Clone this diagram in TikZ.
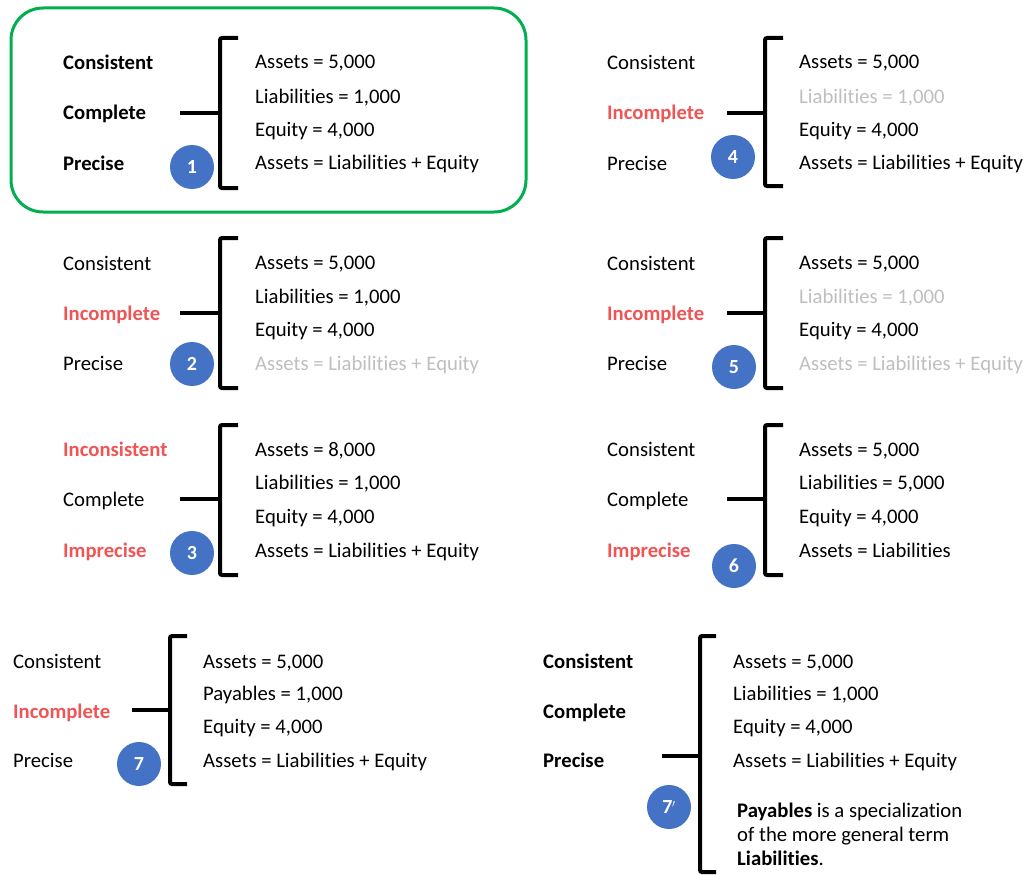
\documentclass[tikz,border=0pt]{standalone}
\usepackage{fontspec}
\setmainfont{Carlito}[Ligatures=NoCommon]
\definecolor{redw}{RGB}{240,85,85}
\definecolor{grayw}{RGB}{191,191,191}
\definecolor{bluec}{RGB}{68,114,196}
\definecolor{greenb}{RGB}{0,176,80}
\tikzset{
 lab/.style={anchor=base west, font=\fontsize{20.7}{24}\selectfont, inner sep=0pt},
 labb/.style={lab, font=\fontsize{20.7}{24}\selectfont\bfseries},
 bad/.style={labb, text=redw},
 gone/.style={lab, text=grayw},
 num/.style={circle, fill=bluec, minimum size=44pt, inner sep=0pt, text=white, font=\fontsize{20}{22}\selectfont\bfseries},
 brc/.style={line width=4pt, rounded corners=2pt},
 frame/.style={draw=greenb, line width=3pt, rounded corners=32pt}
}
\newcommand\mybrace[6]{%
  \draw[brc] (#2,#3) -- (#1,#3) -- (#1,#4) -- (#2,#4);
  \draw[brc] (#6,#5) -- (#1,#5);}
\begin{document}
\begin{tikzpicture}[x=1pt,y=-1pt]
\useasboundingbox (0,0) rectangle (1026,875);
\fill[white] (0,0) rectangle (1026,875);
% frame
\draw[frame] (11,8) rectangle (526,212);
% ---------- Panel 1
\node[labb] (p1a) at (63,70) {Consistent};
\node[labb] (p1b) at (63,120) {Complete};
\node[labb] (p1c) at (63,170) {Precise};
\mybrace{220}{238}{38}{188}{113}{180}
\node[lab] (p1d) at (255,69) {Assets = 5,000};
\node[lab] (p1e) at (255,103) {Liabilities = 1,000};
\node[lab] (p1f) at (255,136) {Equity = 4,000};
\node[lab] (p1g) at (255,169) {Assets = Liabilities + Equity};
\node[num] (n1) at (192,167) {1};
% ---------- Panel 4
\node[lab] (p4a) at (607,70) {Consistent};
\node[bad] (p4b) at (607,120) {Incomplete};
\node[lab] (p4c) at (607,170) {Precise};
\mybrace{765}{783}{38}{186}{113}{727}
\node[lab] (p4d) at (799,69) {Assets = 5,000};
\node[gone] (p4e) at (799,103) {Liabilities = 1,000};
\node[lab] (p4f) at (799,136) {Equity = 4,000};
\node[lab] (p4g) at (799,169) {Assets = Liabilities + Equity};
\node[num] (n4) at (733,157) {4};
% ---------- Panel 2
\node[lab] (p2a) at (63,270) {Consistent};
\node[bad] (p2b) at (63,320) {Incomplete};
\node[lab] (p2c) at (63,370) {Precise};
\mybrace{220}{238}{238}{388}{313}{180}
\node[lab] (p2d) at (255,269) {Assets = 5,000};
\node[lab] (p2e) at (255,303) {Liabilities = 1,000};
\node[lab] (p2f) at (255,336) {Equity = 4,000};
\node[gone] (p2g) at (255,370) {Assets = Liabilities + Equity};
\node[num] (n2) at (192,364) {2};
% ---------- Panel 5
\node[lab] (p5a) at (607,270) {Consistent};
\node[bad] (p5b) at (607,320) {Incomplete};
\node[lab] (p5c) at (607,370) {Precise};
\mybrace{765}{783}{238}{388}{313}{727}
\node[lab] (p5d) at (799,269) {Assets = 5,000};
\node[gone] (p5e) at (799,303) {Liabilities = 1,000};
\node[lab] (p5f) at (799,336) {Equity = 4,000};
\node[gone] (p5g) at (799,370) {Assets = Liabilities + Equity};
\node[num] (n5) at (734,367) {5};
% ---------- Panel 3
\node[bad] (p3a) at (63,456) {Inconsistent};
\node[lab] (p3b) at (63,506) {Complete};
\node[bad] (p3c) at (63,557) {Imprecise};
\mybrace{220}{238}{425}{575}{499}{180}
\node[lab] (p3d) at (255,456) {Assets = 8,000};
\node[lab] (p3e) at (255,489) {Liabilities = 1,000};
\node[lab] (p3f) at (255,523) {Equity = 4,000};
\node[lab] (p3g) at (255,557) {Assets = Liabilities + Equity};
\node[num] (n3) at (192,553) {3};
% ---------- Panel 6
\node[lab] (p6a) at (607,456) {Consistent};
\node[lab] (p6b) at (607,506) {Complete};
\node[bad] (p6c) at (607,557) {Imprecise};
\mybrace{765}{783}{425}{575}{499}{727}
\node[lab] (p6d) at (799,456) {Assets = 5,000};
\node[lab] (p6e) at (799,489) {Liabilities = 5,000};
\node[lab] (p6f) at (799,523) {Equity = 4,000};
\node[lab] (p6g) at (799,557) {Assets = Liabilities};
\node[num] (n6) at (734,566) {6};
% ---------- Panel 7
\node[lab] (p7a) at (13,668) {Consistent};
\node[bad] (p7b) at (13,718) {Incomplete};
\node[lab] (p7c) at (13,767) {Precise};
\mybrace{170}{187}{636}{784}{710}{132}
\node[lab] (p7d) at (203,668) {Assets = 5,000};
\node[lab] (p7e) at (203,700) {Payables = 1,000};
\node[lab] (p7f) at (203,733) {Equity = 4,000};
\node[lab] (p7g) at (203,767) {Assets = Liabilities + Equity};
\node[num] (n7) at (139,764) {7};
% ---------- Panel 7'
\node[labb] (p8a) at (543,668) {Consistent};
\node[labb] (p8b) at (543,718) {Complete};
\node[labb] (p8c) at (543,767) {Precise};
\mybrace{700}{716}{636}{872}{756}{662}
\node[lab] (p8d) at (733,668) {Assets = 5,000};
\node[lab] (p8e) at (733,700) {Liabilities = 1,000};
\node[lab] (p8f) at (733,733) {Equity = 4,000};
\node[lab] (p8g) at (733,767) {Assets = Liabilities + Equity};
\node[num] (n8) at (669,807) {7\kern-0.5pt\raisebox{1pt}{\fontsize{15}{15}\selectfont$'$}};
\node[lab, align=left, anchor=north west] (p8h) at (737,803)
  {\textbf{Payables} is a specialization\\of the more general term\\\textbf{Liabilities}.};
\end{tikzpicture}
\end{document}
